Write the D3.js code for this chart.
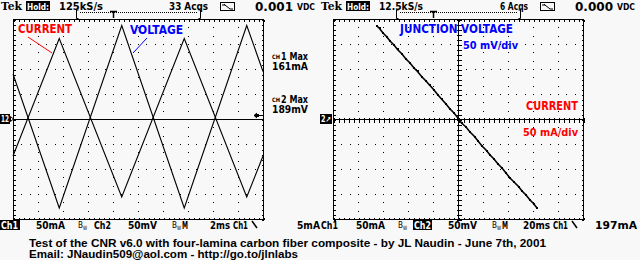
<!DOCTYPE html>
<html><head><meta charset="utf-8">
<script src="https://cdn.jsdelivr.net/npm/d3@7"></script>
<style>
html,body{margin:0;padding:0;background:#f8f8f8;}
svg{display:block;}
</style></head>
<body>
<script>
// ---- data ----
const timeMs      = [0, 3.7, 8.7, 13.7, 18.7, 20];          // left panel time vertices (2 ms/div)
const currentMa   = [-74, 161, -156, 161, -156, -74];        // CH1 current (50 mA/div)
const voltageMv   = [90, -178, 187, -178, 187, 95];          // CH2 voltage (50 mV/div)
const xyCurrent   = [-162,-157,-150,-143,-136,-128,-121,-112,-105,-96,-88,-81,-72,-64,-57,-48,-40,-33,-24,-16,-8,0,7,16,24,33,40,48,57,64,72,80,88,96,104,112,121,128,136,144,151,158];
const xyVoltage   = [186,181,172,165,156,148,139,130,121,112,102,95,84,76,68,58,48,40,30,20,12,2,-8,-16,-26,-35,-44,-54,-63,-72,-80,-90,-98,-108,-118,-126,-135,-144,-152,-162,-169,-178];
const leftHeader  = {rate:"125kS/s", acqs:"33 Acqs", dc:"0.001"};
const rightHeader = {rate:"12.5kS/s", acqs:"6 Acqs", dc:"0.000"};
const maxLabels   = [["1","161mA"],["2","189mV"]];
const titleLines  = ["Test of the CNR v6.0 with four-lamina carbon fiber composite - by JL Naudin - June 7th, 2001",
                     "Email: JNaudin509@aol.com - http://go.to/jlnlabs"];

const W=640,H=260;
const svg=d3.select("body").append("svg").attr("width",W).attr("height",H).attr("font-family","DejaVu Sans");
svg.append("rect").attr("width",W).attr("height",H).attr("fill","#f8f8f8");

function txt(g,x,y,s,w,size,opts={}){
  const t=g.append("text").attr("x",x).attr("y",y).attr("font-size",size).attr("font-weight",opts.weight||"bold")
    .attr("fill",opts.fill||"#000").text(s);
  if(w) t.attr("textLength",w).attr("lengthAdjust","spacingAndGlyphs");
  if(opts.family) t.attr("font-family",opts.family);
  return t;
}

const gTop=19,gBot=219;
function panel(x0){
  const g=svg.append("g");
  const x1=x0+250;
  const xs=d3.scaleLinear().domain([0,10]).range([x0,x1]);
  const ys=d3.scaleLinear().domain([-4,4]).range([gBot,gTop]);
  for(let i=1;i<10;i++){
    if(i===5) continue;
    for(let y=gTop+25/3;y<gBot;y+=25/3)
      g.append("rect").attr("x",Math.round(xs(i))).attr("y",Math.round(y)).attr("width",1).attr("height",1).attr("fill","#000");
  }
  for(let j=-3;j<=3;j++){
    if(j===0) continue;
    for(let x=x0+25/3;x<x1;x+=25/3)
      g.append("rect").attr("x",Math.round(x)).attr("y",Math.round(ys(j))).attr("width",1).attr("height",1).attr("fill","#000");
  }
  g.append("rect").attr("x",x0+0.5).attr("y",gTop+0.5).attr("width",250).attr("height",200)
   .attr("fill","none").attr("stroke","#000").attr("stroke-width",1);
  const minorX=d3.range(0,10.01,0.2), minorY=d3.range(-4,4.01,0.2);
  g.append("g").attr("transform",`translate(0.5,${gBot+0.5})`).call(d3.axisTop(xs).tickValues(minorX).tickSize(2).tickFormat(""));
  g.append("g").attr("transform",`translate(0.5,${gTop+0.5})`).call(d3.axisBottom(xs).tickValues(minorX).tickSize(2).tickFormat(""));
  g.append("g").attr("transform",`translate(${x0+0.5},0.5)`).call(d3.axisRight(ys).tickValues(minorY).tickSize(2).tickFormat(""));
  g.append("g").attr("transform",`translate(${x1+0.5},0.5)`).call(d3.axisLeft(ys).tickValues(minorY).tickSize(2).tickFormat(""));
  g.selectAll(".domain").remove();
  g.selectAll(".tick line").attr("stroke","#000").attr("shape-rendering","crispEdges");
  return {g,xs,ys,x0,x1};
}

// ---------- LEFT PANEL ----------
const L=panel(13);
for(let y=gTop+25/3;y<gBot;y+=25/3) L.g.append("rect").attr("x",138).attr("y",Math.round(y)).attr("width",1).attr("height",1);
L.g.append("line").attr("x1",13).attr("x2",263).attr("y1",119.5).attr("y2",119.5).attr("stroke","#000");
const xT=d3.scaleLinear().domain([0,20]).range([13,263]);
const yA=d3.scaleLinear().domain([-200,200]).range([gBot,gTop]);
const ln=d3.line().x(d=>xT(d[0])).y(d=>yA(d[1]));
L.g.append("path").attr("d",ln(timeMs.map((t,i)=>[t,currentMa[i]]))).attr("fill","none").attr("stroke","#000").attr("stroke-width",1.1);
L.g.append("path").attr("d",ln(timeMs.map((t,i)=>[t,voltageMv[i]]))).attr("fill","none").attr("stroke","#000").attr("stroke-width",1.1);
svg.append("path").attr("d","M254,115.5 H262 M254,115.5 l3,-2.5 M254,115.5 l3,2.5").attr("stroke","#000").attr("fill","none");
svg.append("path").attr("d","M255,114h4v3h-4z").attr("fill","#000");
svg.append("rect").attr("x",0).attr("y",114).attr("width",10).attr("height",10).attr("fill","#000");
txt(svg,1,122,"12",8,8,{fill:"#fff"});
svg.append("path").attr("d","M10.5,116.5 L13.5,119 L10.5,121.5Z").attr("fill","none").attr("stroke","#000");
txt(svg,18,33,"CURRENT",54,12,{fill:"#f00"});
svg.append("line").attr("x1",28).attr("y1",37).attr("x2",52).attr("y2",53).attr("stroke","#f00");
txt(svg,130,34,"VOLTAGE",53,12,{fill:"#00f"});
svg.append("line").attr("x1",147).attr("y1",38).attr("x2",133).attr("y2",53).attr("stroke","#00f");
maxLabels.forEach((m,i)=>{
  const y0=i===0?60:103;
  txt(svg,272,y0-1,"CH",8,6);
  txt(svg,281,y0,m[0]+" Max",27,10);
  txt(svg,272,y0+10,m[1],36,10);
});

// ---------- RIGHT PANEL ----------
const R=panel(333);
R.g.append("line").attr("x1",333).attr("x2",583).attr("y1",119.5).attr("y2",119.5).attr("stroke","#000");
R.g.append("line").attr("x1",458.5).attr("x2",458.5).attr("y1",19).attr("y2",219).attr("stroke","#000");
R.g.append("g").attr("transform","translate(0.5,117.5)").call(d3.axisBottom(R.xs).tickValues(d3.range(0,10.01,0.2)).tickSize(5).tickFormat(""));
R.g.append("g").attr("transform","translate(456.5,0.5)").call(d3.axisRight(R.ys).tickValues(d3.range(-4,4.01,0.2)).tickSize(5).tickFormat(""));
R.g.selectAll(".domain").remove();
R.g.selectAll(".tick line").attr("stroke","#000").attr("shape-rendering","crispEdges");
const xI=d3.scaleLinear().domain([-250,250]).range([333,583]);
const yV=d3.scaleLinear().domain([-200,200]).range([gBot,gTop]);
const xyLine=d3.line().x(d=>xI(d[0])).y(d=>yV(d[1]));
const xyPts=xyCurrent.map((c,i)=>[c,xyVoltage[i]]);
svg.append("path").attr("d",xyLine(xyPts)).attr("fill","none").attr("stroke","#000").attr("stroke-width",1.6);
svg.selectAll("rect.pt").data(xyPts).enter().append("rect").attr("class","pt")
  .attr("x",d=>Math.round(xI(d[0]))-1).attr("y",d=>Math.round(yV(d[1]))-1).attr("width",2).attr("height",2).attr("fill","#000");
svg.append("rect").attr("x",320).attr("y",114).attr("width",12).attr("height",10).attr("fill","#000");
txt(svg,321,122,"2↗",10,8,{fill:"#fff"});
txt(svg,400,33,"JUNCTION VOLTAGE",113,12,{fill:"#00f"});
txt(svg,463,49,"50 mV/div",55,11,{fill:"#00f"});
txt(svg,526,110,"CURRENT",52,12,{fill:"#f00"});
txt(svg,523,136,"50 mA/div",55,11,{fill:"#f00"});

// ---------- HEADERS ----------
function header(ox,h,acqsX){
  const g=svg.append("g").attr("transform",`translate(${ox},0)`);
  txt(g,1,10,"Tek",21,11,{family:"DejaVu Serif"});
  g.append("rect").attr("x",26).attr("y",1).attr("width",24).attr("height",10).attr("fill","#000");
  txt(g,27,10,"Hold:",22,9,{fill:"#fff"});
  txt(g,59,10,h.rate,44,10);
  txt(g,acqsX,10,h.acqs,208-acqsX,10);
  g.append("rect").attr("x",220.5).attr("y",2.5).attr("width",14).attr("height",8).attr("fill","none").attr("stroke","#000");
  g.append("path").attr("d","M222,5 H225 L230,9 H233 M224,4 L226,6").attr("fill","none").attr("stroke","#000");
  txt(g,255,11,h.dc,38,13);
  txt(g,297,10,"VDC",18,8);
  g.append("path").attr("d","M78.5,10 H76.5 V18.5 H78.5 M198.5,10 H200.5 V18.5 H198.5").attr("fill","none").attr("stroke","#000");
  for(let x=80;x<198;x+=2) g.append("rect").attr("x",x).attr("y",12).attr("width",1).attr("height",1);
  g.append("path").attr("d","M110,11.5 H117 M113.5,11.5 V18").attr("fill","none").attr("stroke","#000").attr("stroke-width",1.5);
}
header(0,leftHeader,169);
header(320,rightHeader,180);

// ---------- FOOTERS ----------
function bw(g,x){
  txt(g,x,228,"B",5,9,{weight:"normal"});
  txt(g,x+5,230,"W",4,6,{weight:"normal"});
}
function footer(ox,inv,sweep,sweepX,right,rightX){
  const g=svg.append("g").attr("transform",`translate(${ox},0)`);
  if(inv===1) g.append("rect").attr("x",0).attr("y",220).attr("width",20).attr("height",10).attr("fill","#000");
  txt(g,1,229,"Ch1",17,10,{fill:inv===1?"#fff":"#000"});
  txt(g,36,229,"50mA",29,10);
  bw(g,78);
  if(inv===2) g.append("rect").attr("x",93).attr("y",220).attr("width",19).attr("height",10).attr("fill","#000");
  txt(g,94,229,"Ch2",17,10,{fill:inv===2?"#fff":"#000"});
  txt(g,128,229,"50mV",29,10);
  bw(g,172);
  txt(g,182,229,"M",6,10);
  txt(g,sweepX,229,sweep,230-sweepX,10);
  txt(g,233,229,"Ch1",15,10);
  g.append("path").attr("d","M252,221 L257,228 M256,227 l1,1").attr("stroke","#000").attr("stroke-width",1.5).attr("fill","none");
  txt(g,rightX,229,right,(right.length>3?317:320)-rightX,10);
}
footer(0,1,"2ms",210,"5mA",297);
footer(320,2,"20ms",203,"197mA",275);

txt(svg,29,247,titleLines[0],517,11.5,{family:"Liberation Sans"});
txt(svg,29,257.5,titleLines[1],269,11.5,{family:"Liberation Sans"});
</script>
</body></html>
